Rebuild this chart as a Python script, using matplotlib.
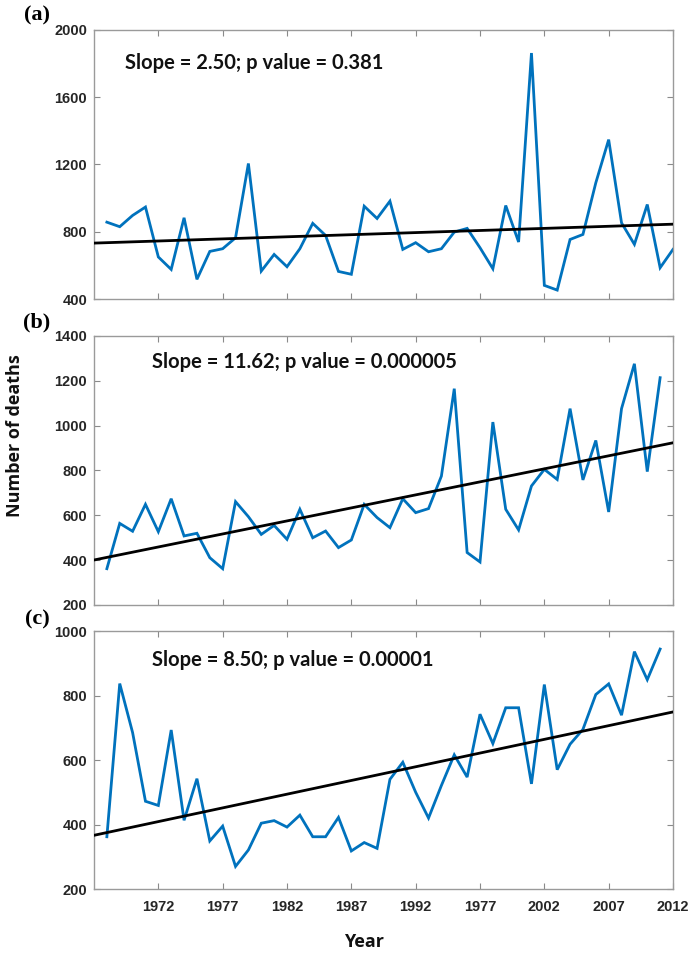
import numpy as np
import matplotlib
matplotlib.use("Agg")
import matplotlib.pyplot as plt

# Annual number of deaths, three series
years_a = list(range(1968, 2013))
deaths_a = [857, 830, 897, 947, 650, 576, 883, 517, 683, 699,
            764, 1206, 566, 665, 592, 699, 850, 778, 564, 547,
            952, 879, 982, 695, 735, 681, 699, 798, 820, 705,
            580, 956, 739, 1863, 481, 453, 754, 784, 1091, 1348,
            853, 725, 962, 586, 695]

years_b = list(range(1968, 2012))
deaths_b = [362, 564, 529, 649, 527, 674, 508, 520, 411, 362,
            661, 594, 515, 555, 493, 627, 500, 530, 456, 490,
            649, 590, 545, 674, 612, 630, 775, 1165, 434, 392,
            1016, 627, 535, 731, 805, 760, 1076, 758, 934, 615,
            1076, 1276, 795, 1214]

years_c = list(range(1968, 2012))
deaths_c = [362, 837, 685, 472, 459, 693, 413, 542, 349, 395,
            270, 321, 404, 412, 392, 429, 362, 362, 422, 318,
            344, 326, 540, 593, 500, 420, 521, 616, 547, 742,
            651, 762, 762, 526, 834, 570, 649, 695, 803, 836,
            739, 936, 849, 944]

# Linear trends: slope (deaths / year) and fitted value at 1990
slopes = [2.50, 11.62, 8.50]
trend_at_1990 = [790, 668, 562]
p_values = ["0.381", "0.000005", "0.00001"]
panel_tags = ["(a)", "(b)", "(c)"]

y_ticks = [[400, 800, 1200, 1600, 2000],
           [200, 400, 600, 800, 1000, 1200, 1400],
           [200, 400, 600, 800, 1000]]
x_ticks = [1972, 1977, 1982, 1987, 1992, 1997, 2002, 2007, 2012]
x_tick_labels = ["1972", "1977", "1982", "1987", "1992", "1977", "2002", "2007", "2012"]

series = [(years_a, deaths_a), (years_b, deaths_b), (years_c, deaths_c)]

W, H = 691, 955
fig = plt.figure(figsize=(W / 100, H / 100), dpi=100)
fig.patch.set_facecolor("white")

# axes boxes in pixels: (left, top, right, bottom)
boxes = [(94, 30, 673, 299), (94, 336, 673, 605), (94, 631, 673, 889)]
text_pos = [(0.054, 0.879), (0.101, 0.902), (0.100, 0.888)]
tag_y = [15, 322, 619]

blue = "#0072BD"
tick_font = {"family": ["Liberation Sans", "DejaVu Sans"], "weight": "bold", "size": 10.5}

for i, ((x, y), box) in enumerate(zip(series, boxes)):
    l, t, r, b = box
    ax = fig.add_axes([l / W, 1 - b / H, (r - l) / W, (b - t) / H])
    ax.plot(x, y, color=blue, lw=2.0, solid_joinstyle="miter", zorder=2)

    xl = np.array([1967, 2012])
    ax.plot(xl, trend_at_1990[i] + slopes[i] * (xl - 1990), color="black", lw=2.0, zorder=3)

    ax.set_xlim(1967, 2012)
    ax.set_ylim(y_ticks[i][0], y_ticks[i][-1])
    ax.set_yticks(y_ticks[i])
    ax.set_yticklabels([str(v) for v in y_ticks[i]], fontdict=tick_font, color="#262626")
    ax.set_xticks(x_ticks)
    if i == 2:
        ax.set_xticklabels(x_tick_labels, fontdict=tick_font, color="#262626")
    else:
        ax.set_xticklabels([])

    ax.tick_params(direction="in", length=4, width=0.8, color="#8a8a8a",
                   top=True, right=True, pad=5)
    ax.tick_params(axis="x", pad=8)
    for s in ax.spines.values():
        s.set_color("#9a9a9a")
        s.set_linewidth(1.0)

    ax.text(text_pos[i][0], text_pos[i][1],
            f"Slope = {slopes[i]:.2f}; p value = {p_values[i]}",
            transform=ax.transAxes, ha="left", va="center",
            fontsize=14.5, fontweight="bold", family=["Lato", "DejaVu Sans"], color="#111111")

    fig.text(37 / W, 1 - tag_y[i] / H, panel_tags[i], ha="center", va="center",
             fontsize=16, fontweight="bold", family=["Liberation Serif", "DejaVu Serif"])

fig.text(15 / W, 1 - 436 / H, "Number of deaths", rotation=90, ha="center", va="center",
         fontsize=13, fontweight="bold", family=["Open Sans", "DejaVu Sans"], color="#111111")
fig.text(364 / W, 1 - 942 / H, "Year", ha="center", va="center",
         fontsize=13, fontweight="bold", family=["Open Sans", "DejaVu Sans"], color="#111111")

fig.savefig("out.png", dpi=100, facecolor="white")
